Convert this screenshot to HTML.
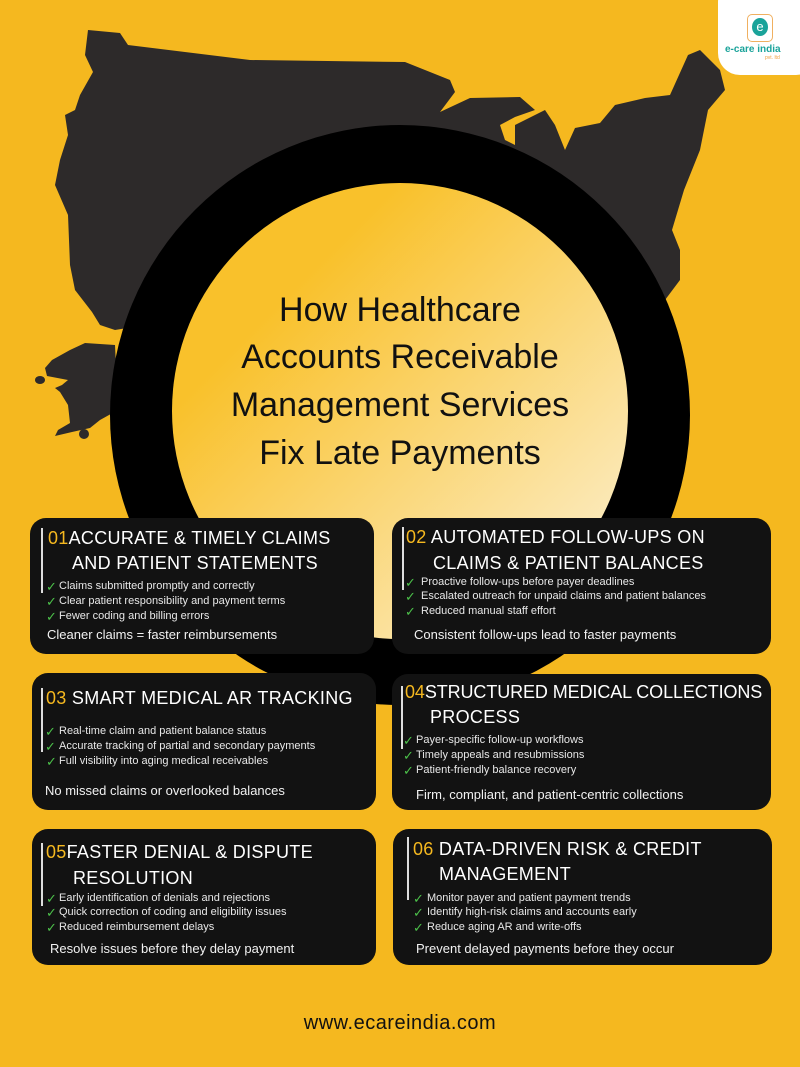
<!DOCTYPE html>
<html><head><meta charset="utf-8"><style>
*{margin:0;padding:0;box-sizing:border-box}
body{width:800px;height:1067px;background:#f5b81f;position:relative;overflow:hidden;font-family:"Liberation Sans","DejaVu Sans",sans-serif}
.a{position:absolute;white-space:nowrap}
.card{position:absolute;background:#121212;border-radius:16px}
.vl{position:absolute;width:2px;background:#ddd}
.t{position:absolute;color:#fff;font-size:18px;letter-spacing:0.3px;line-height:22px;white-space:nowrap}
.n{color:#f5b81f}
.b{position:absolute;color:#e8e8e8;font-size:11px;line-height:13px;white-space:nowrap}
.c{position:absolute;color:#4cc04a;font-size:13px;line-height:13px;font-weight:bold}
.s{position:absolute;color:#f2f2f2;font-size:13px;line-height:15px;white-space:nowrap}
.h{position:absolute;left:0;width:800px;text-align:center;font-size:34px;color:#111;line-height:40px}
</style></head><body>
<svg class="a" style="left:0;top:0" width="800" height="1067">
<defs><linearGradient id="g" x1="0" y1="0" x2="1" y2="1"><stop offset="0.25" stop-color="#f9c12b"/><stop offset="1" stop-color="#fcf3dc"/></linearGradient></defs>
<polygon fill="#2d2a2a" points="88,30 120,33 128,45 250,60 405,62 450,80 455,92 440,112 470,98 520,97 535,110 515,117 500,125 505,140 515,145 515,125 545,110 555,125 565,150 575,128 600,123 615,105 645,98 670,95 688,55 700,50 720,70 725,90 708,110 700,150 684,190 672,230 680,250 680,280 665,300 560,300 300,300 115,330 100,325 92,312 75,290 70,265 68,215 55,185 60,160 68,135 65,115 75,110 80,95 93,72 85,55"/>
<polygon fill="#2d2a2a" points="45,368 52,360 70,350 85,343 115,345 118,410 100,420 90,428 72,432 55,436 58,430 70,423 68,405 60,392 55,388 62,385 68,380 47,376"/>
<ellipse cx="40" cy="380" rx="5" ry="4" fill="#2d2a2a"/>
<ellipse cx="84" cy="434" rx="5" ry="5" fill="#2d2a2a"/>
<circle cx="400" cy="415" r="290" fill="#000"/>
<circle cx="400" cy="411" r="228" fill="url(#g)"/>
</svg>
<div class="h" style="top:290px">How Healthcare</div>
<div class="h" style="top:337px">Accounts Receivable</div>
<div class="h" style="top:385px">Management Services</div>
<div class="h" style="top:433px">Fix Late Payments</div>

<div class="a" style="left:718px;top:-20px;width:100px;height:95px;background:#fff;border-radius:22px"></div>
<div class="a" style="left:747px;top:14px;width:26px;height:28px;border:1.5px solid #f0b060;border-radius:5px;background:#fff"></div>
<div class="a" style="left:752px;top:18px;width:16px;height:18px;border-radius:50%;background:#1aa39a;color:#fff;font-size:13px;text-align:center;line-height:17px">e</div>
<div class="a" style="left:725px;top:44px;font-size:10px;color:#1aa39a;font-weight:bold">e-care india</div>
<div class="a" style="left:765px;top:55px;font-size:5px;color:#f0a040">pvt. ltd</div>

<!-- card1 -->
<div class="card" style="left:30px;top:518px;width:344px;height:136px"></div>
<div class="vl" style="left:41px;top:528px;height:65px"></div>
<div class="t" style="left:48px;top:527px"><span class="n">01</span>ACCURATE &amp; TIMELY CLAIMS</div>
<div class="t" style="left:72px;top:552px">AND PATIENT STATEMENTS</div>
<div class="c" style="left:46px;top:580px">✓</div><div class="b" style="left:59px;top:580px">Claims submitted promptly and correctly</div>
<div class="c" style="left:46px;top:595px">✓</div><div class="b" style="left:59px;top:595px">Clear patient responsibility and payment terms</div>
<div class="c" style="left:46px;top:610px">✓</div><div class="b" style="left:59px;top:610px">Fewer coding and billing errors</div>
<div class="s" style="left:47px;top:627px">Cleaner claims = faster reimbursements</div>

<!-- card2 -->
<div class="card" style="left:392px;top:518px;width:379px;height:136px"></div>
<div class="vl" style="left:402px;top:527px;height:63px"></div>
<div class="t" style="left:406px;top:526px"><span class="n">02</span> AUTOMATED FOLLOW-UPS ON</div>
<div class="t" style="left:433px;top:552px">CLAIMS &amp; PATIENT BALANCES</div>
<div class="c" style="left:405px;top:576px">✓</div><div class="b" style="left:421px;top:576px">Proactive follow-ups before payer deadlines</div>
<div class="c" style="left:405px;top:590px">✓</div><div class="b" style="left:421px;top:590px">Escalated outreach for unpaid claims and patient balances</div>
<div class="c" style="left:405px;top:605px">✓</div><div class="b" style="left:421px;top:605px">Reduced manual staff effort</div>
<div class="s" style="left:414px;top:627px">Consistent follow-ups lead to faster payments</div>

<!-- card3 -->
<div class="card" style="left:32px;top:673px;width:344px;height:137px"></div>
<div class="vl" style="left:41px;top:688px;height:64px"></div>
<div class="t" style="left:46px;top:687px"><span class="n">03</span> SMART MEDICAL AR TRACKING</div>
<div class="c" style="left:45px;top:725px">✓</div><div class="b" style="left:59px;top:725px">Real-time claim and patient balance status</div>
<div class="c" style="left:45px;top:740px">✓</div><div class="b" style="left:59px;top:740px">Accurate tracking of partial and secondary payments</div>
<div class="c" style="left:46px;top:755px">✓</div><div class="b" style="left:59px;top:755px">Full visibility into aging medical receivables</div>
<div class="s" style="left:45px;top:783px">No missed claims or overlooked balances</div>

<!-- card4 -->
<div class="card" style="left:392px;top:674px;width:379px;height:136px"></div>
<div class="vl" style="left:401px;top:686px;height:63px"></div>
<div class="t" style="left:405px;top:681px;letter-spacing:-0.1px"><span class="n">04</span>STRUCTURED MEDICAL COLLECTIONS</div>
<div class="t" style="left:430px;top:706px">PROCESS</div>
<div class="c" style="left:403px;top:734px">✓</div><div class="b" style="left:416px;top:734px">Payer-specific follow-up workflows</div>
<div class="c" style="left:403px;top:749px">✓</div><div class="b" style="left:416px;top:749px">Timely appeals and resubmissions</div>
<div class="c" style="left:403px;top:764px">✓</div><div class="b" style="left:416px;top:764px">Patient-friendly balance recovery</div>
<div class="s" style="left:416px;top:787px">Firm, compliant, and patient-centric collections</div>

<!-- card5 -->
<div class="card" style="left:32px;top:829px;width:344px;height:136px"></div>
<div class="vl" style="left:41px;top:843px;height:63px"></div>
<div class="t" style="left:46px;top:841px"><span class="n">05</span>FASTER DENIAL &amp; DISPUTE</div>
<div class="t" style="left:73px;top:867px">RESOLUTION</div>
<div class="c" style="left:46px;top:892px">✓</div><div class="b" style="left:59px;top:892px">Early identification of denials and rejections</div>
<div class="c" style="left:46px;top:906px">✓</div><div class="b" style="left:59px;top:906px">Quick correction of coding and eligibility issues</div>
<div class="c" style="left:46px;top:921px">✓</div><div class="b" style="left:59px;top:921px">Reduced reimbursement delays</div>
<div class="s" style="left:50px;top:941px">Resolve issues before they delay payment</div>

<!-- card6 -->
<div class="card" style="left:393px;top:829px;width:379px;height:136px"></div>
<div class="vl" style="left:407px;top:837px;height:63px"></div>
<div class="t" style="left:413px;top:838px"><span class="n">06</span> DATA-DRIVEN RISK &amp; CREDIT</div>
<div class="t" style="left:439px;top:863px">MANAGEMENT</div>
<div class="c" style="left:413px;top:892px">✓</div><div class="b" style="left:427px;top:892px">Monitor payer and patient payment trends</div>
<div class="c" style="left:413px;top:906px">✓</div><div class="b" style="left:427px;top:906px">Identify high-risk claims and accounts early</div>
<div class="c" style="left:413px;top:921px">✓</div><div class="b" style="left:427px;top:921px">Reduce aging AR and write-offs</div>
<div class="s" style="left:416px;top:941px">Prevent delayed payments before they occur</div>

<div class="a" style="left:0;top:1012px;width:800px;text-align:center;font-size:20px;color:#111;letter-spacing:0.5px">www.ecareindia.com</div>
</body></html>
